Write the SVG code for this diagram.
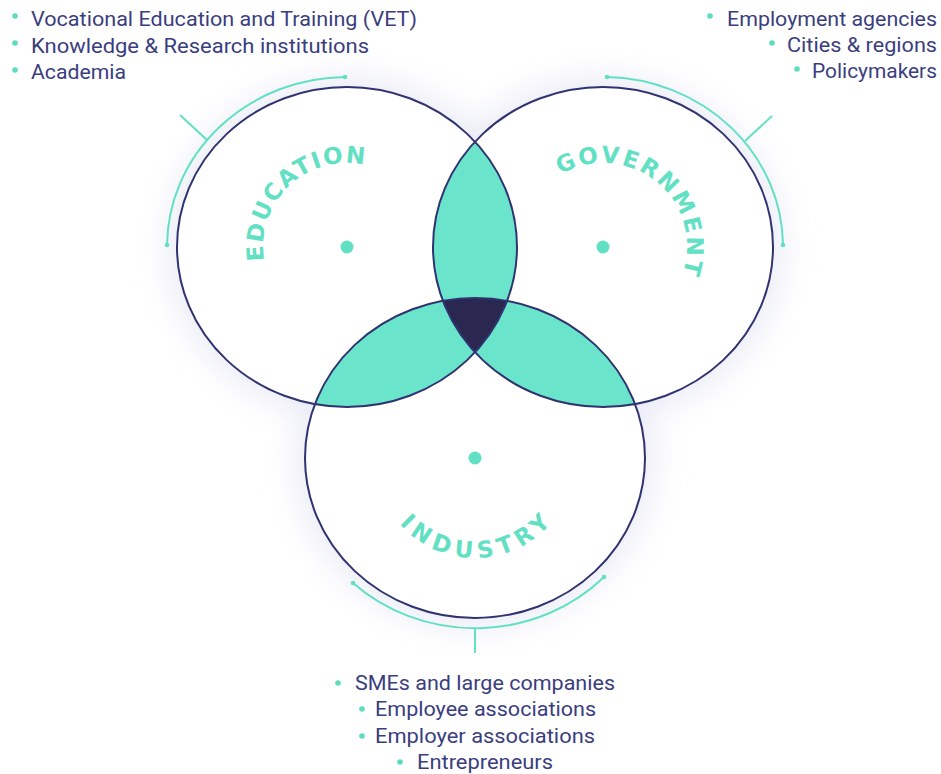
<svg xmlns="http://www.w3.org/2000/svg" width="941" height="774" viewBox="0 0 941 774">
  <style>
    .ring { fill: none; stroke: #2f3370; stroke-width: 2; }
    .disc { fill: #ffffff; }
    .pair { fill: #6be4cc; }
    .core { fill: #2a2750; }
    .hub { fill: #62e0c4; }
    .label { fill: #62e0c4; font-family: "DejaVu Sans", "Liberation Sans", sans-serif; font-weight: bold; font-size: 23px; }
    .item { fill: #3a3e7e; font-family: Roboto, "Liberation Sans", sans-serif; font-size: 21px; }
    .bullet { fill: #5fdcc0; }
    .bracket { fill: none; stroke: #62e0c4; stroke-width: 2; }
    .tip { fill: #62e0c4; }
  </style>
  <defs>
    <filter id="haze" x="-30%" y="-30%" width="160%" height="160%">
      <feGaussianBlur stdDeviation="18"/>
    </filter>
    <clipPath id="clipEdu"><ellipse cx="347" cy="247" rx="170" ry="160"/></clipPath>
    <clipPath id="clipGov"><ellipse cx="603" cy="247" rx="170" ry="160"/></clipPath>
    <clipPath id="clipInd"><ellipse cx="475" cy="458" rx="170" ry="160"/></clipPath>
    <!-- label baselines: clockwise over the top for the upper circles, under the bottom for industry -->
    <path id="arcEdu" d="M 268.1 275.7 A 84 84 0 1 1 425.9 275.7"/>
    <path id="arcGov" d="M 519 247 A 84 84 0 1 1 667.3 301"/>
    <path id="arcInd" d="M 381 423.8 A 100 100 0 1 0 569 423.8"/>
  </defs>

  <rect width="941" height="774" fill="#ffffff"/>

  <!-- soft glow behind the circles -->
  <g filter="url(#haze)" fill="#dfe1f1" opacity="0.75">
    <ellipse cx="347" cy="247" rx="176" ry="166"/>
    <ellipse cx="603" cy="247" rx="176" ry="166"/>
    <ellipse cx="475" cy="458" rx="176" ry="166"/>
  </g>

  <!-- circle bodies -->
  <g id="bodies">
    <ellipse class="disc" cx="347" cy="247" rx="170" ry="160"/>
    <ellipse class="disc" cx="603" cy="247" rx="170" ry="160"/>
    <ellipse class="disc" cx="475" cy="458" rx="170" ry="160"/>
  </g>

  <!-- overlaps -->
  <g id="overlaps">
    <ellipse class="pair" cx="603" cy="247" rx="170" ry="160" clip-path="url(#clipEdu)"/>
    <ellipse class="pair" cx="475" cy="458" rx="170" ry="160" clip-path="url(#clipEdu)"/>
    <ellipse class="pair" cx="475" cy="458" rx="170" ry="160" clip-path="url(#clipGov)"/>
    <g clip-path="url(#clipEdu)">
      <ellipse class="core" cx="475" cy="458" rx="170" ry="160" clip-path="url(#clipGov)"/>
    </g>
  </g>

  <g id="education">
    <ellipse class="ring" cx="347" cy="247" rx="170" ry="160"/>
    <circle class="hub" cx="347" cy="247" r="6.5"/>
    <text class="label" letter-spacing="1.7" text-anchor="middle"><textPath href="#arcEdu" startOffset="98">EDUCATION</textPath></text>
    <circle class="bullet" cx="15" cy="16" r="2.8"/>
    <text class="item" x="31" y="26" textLength="386" lengthAdjust="spacingAndGlyphs">Vocational Education and Training (VET)</text>
    <circle class="bullet" cx="15" cy="43" r="2.8"/>
    <text class="item" x="31" y="53" textLength="338" lengthAdjust="spacingAndGlyphs">Knowledge &amp; Research institutions</text>
    <circle class="bullet" cx="15" cy="70" r="2.8"/>
    <text class="item" x="31" y="79" textLength="95" lengthAdjust="spacingAndGlyphs">Academia</text>
  </g>

  <g id="government">
    <ellipse class="ring" cx="603" cy="247" rx="170" ry="160"/>
    <circle class="hub" cx="603" cy="247" r="6.5"/>
    <text class="label" letter-spacing="2.4" text-anchor="middle"><textPath href="#arcGov" startOffset="190">GOVERNMENT</textPath></text>
    <circle class="bullet" cx="710" cy="16" r="2.8"/>
    <text class="item" x="727" y="26" textLength="210" lengthAdjust="spacingAndGlyphs">Employment agencies</text>
    <circle class="bullet" cx="772" cy="43" r="2.8"/>
    <text class="item" x="787" y="52" textLength="150" lengthAdjust="spacingAndGlyphs">Cities &amp; regions</text>
    <circle class="bullet" cx="797" cy="69" r="2.8"/>
    <text class="item" x="812" y="78" textLength="125" lengthAdjust="spacingAndGlyphs">Policymakers</text>
  </g>

  <g id="industry">
    <ellipse class="ring" cx="475" cy="458" rx="170" ry="160"/>
    <circle class="hub" cx="475" cy="458" r="6.5"/>
    <text class="label" letter-spacing="5.8" text-anchor="middle"><textPath href="#arcInd" startOffset="195">INDUSTRY</textPath></text>
    <circle class="bullet" cx="338" cy="683" r="2.8"/>
    <text class="item" x="355" y="690" textLength="260" lengthAdjust="spacingAndGlyphs">SMEs and large companies</text>
    <circle class="bullet" cx="362" cy="709" r="2.8"/>
    <text class="item" x="375" y="716" textLength="221" lengthAdjust="spacingAndGlyphs">Employee associations</text>
    <circle class="bullet" cx="362" cy="736" r="2.8"/>
    <text class="item" x="375" y="743" textLength="220" lengthAdjust="spacingAndGlyphs">Employer associations</text>
    <circle class="bullet" cx="400" cy="762" r="2.8"/>
    <text class="item" x="417" y="769" textLength="136" lengthAdjust="spacingAndGlyphs">Entrepreneurs</text>
  </g>

  <!-- brackets linking each circle to its stakeholder list -->
  <g id="connectors">
    <path class="bracket" d="M 167 245 A 180 170 0 0 1 345 77"/>
    <path class="bracket" d="M 207 140 L 180 115"/>
    <circle class="tip" cx="167" cy="245" r="2.3"/>
    <circle class="tip" cx="345" cy="77" r="2.3"/>

    <path class="bracket" d="M 607 77 A 180 170 0 0 1 783 245"/>
    <path class="bracket" d="M 745 141 L 772 116"/>
    <circle class="tip" cx="607" cy="77" r="2.3"/>
    <circle class="tip" cx="783" cy="245" r="2.3"/>

    <path class="bracket" d="M 353 583 A 180 170 0 0 0 604 577"/>
    <path class="bracket" d="M 475 628 L 475 653"/>
    <circle class="tip" cx="353" cy="583" r="2.3"/>
    <circle class="tip" cx="604" cy="577" r="2.3"/>
  </g>
</svg>
